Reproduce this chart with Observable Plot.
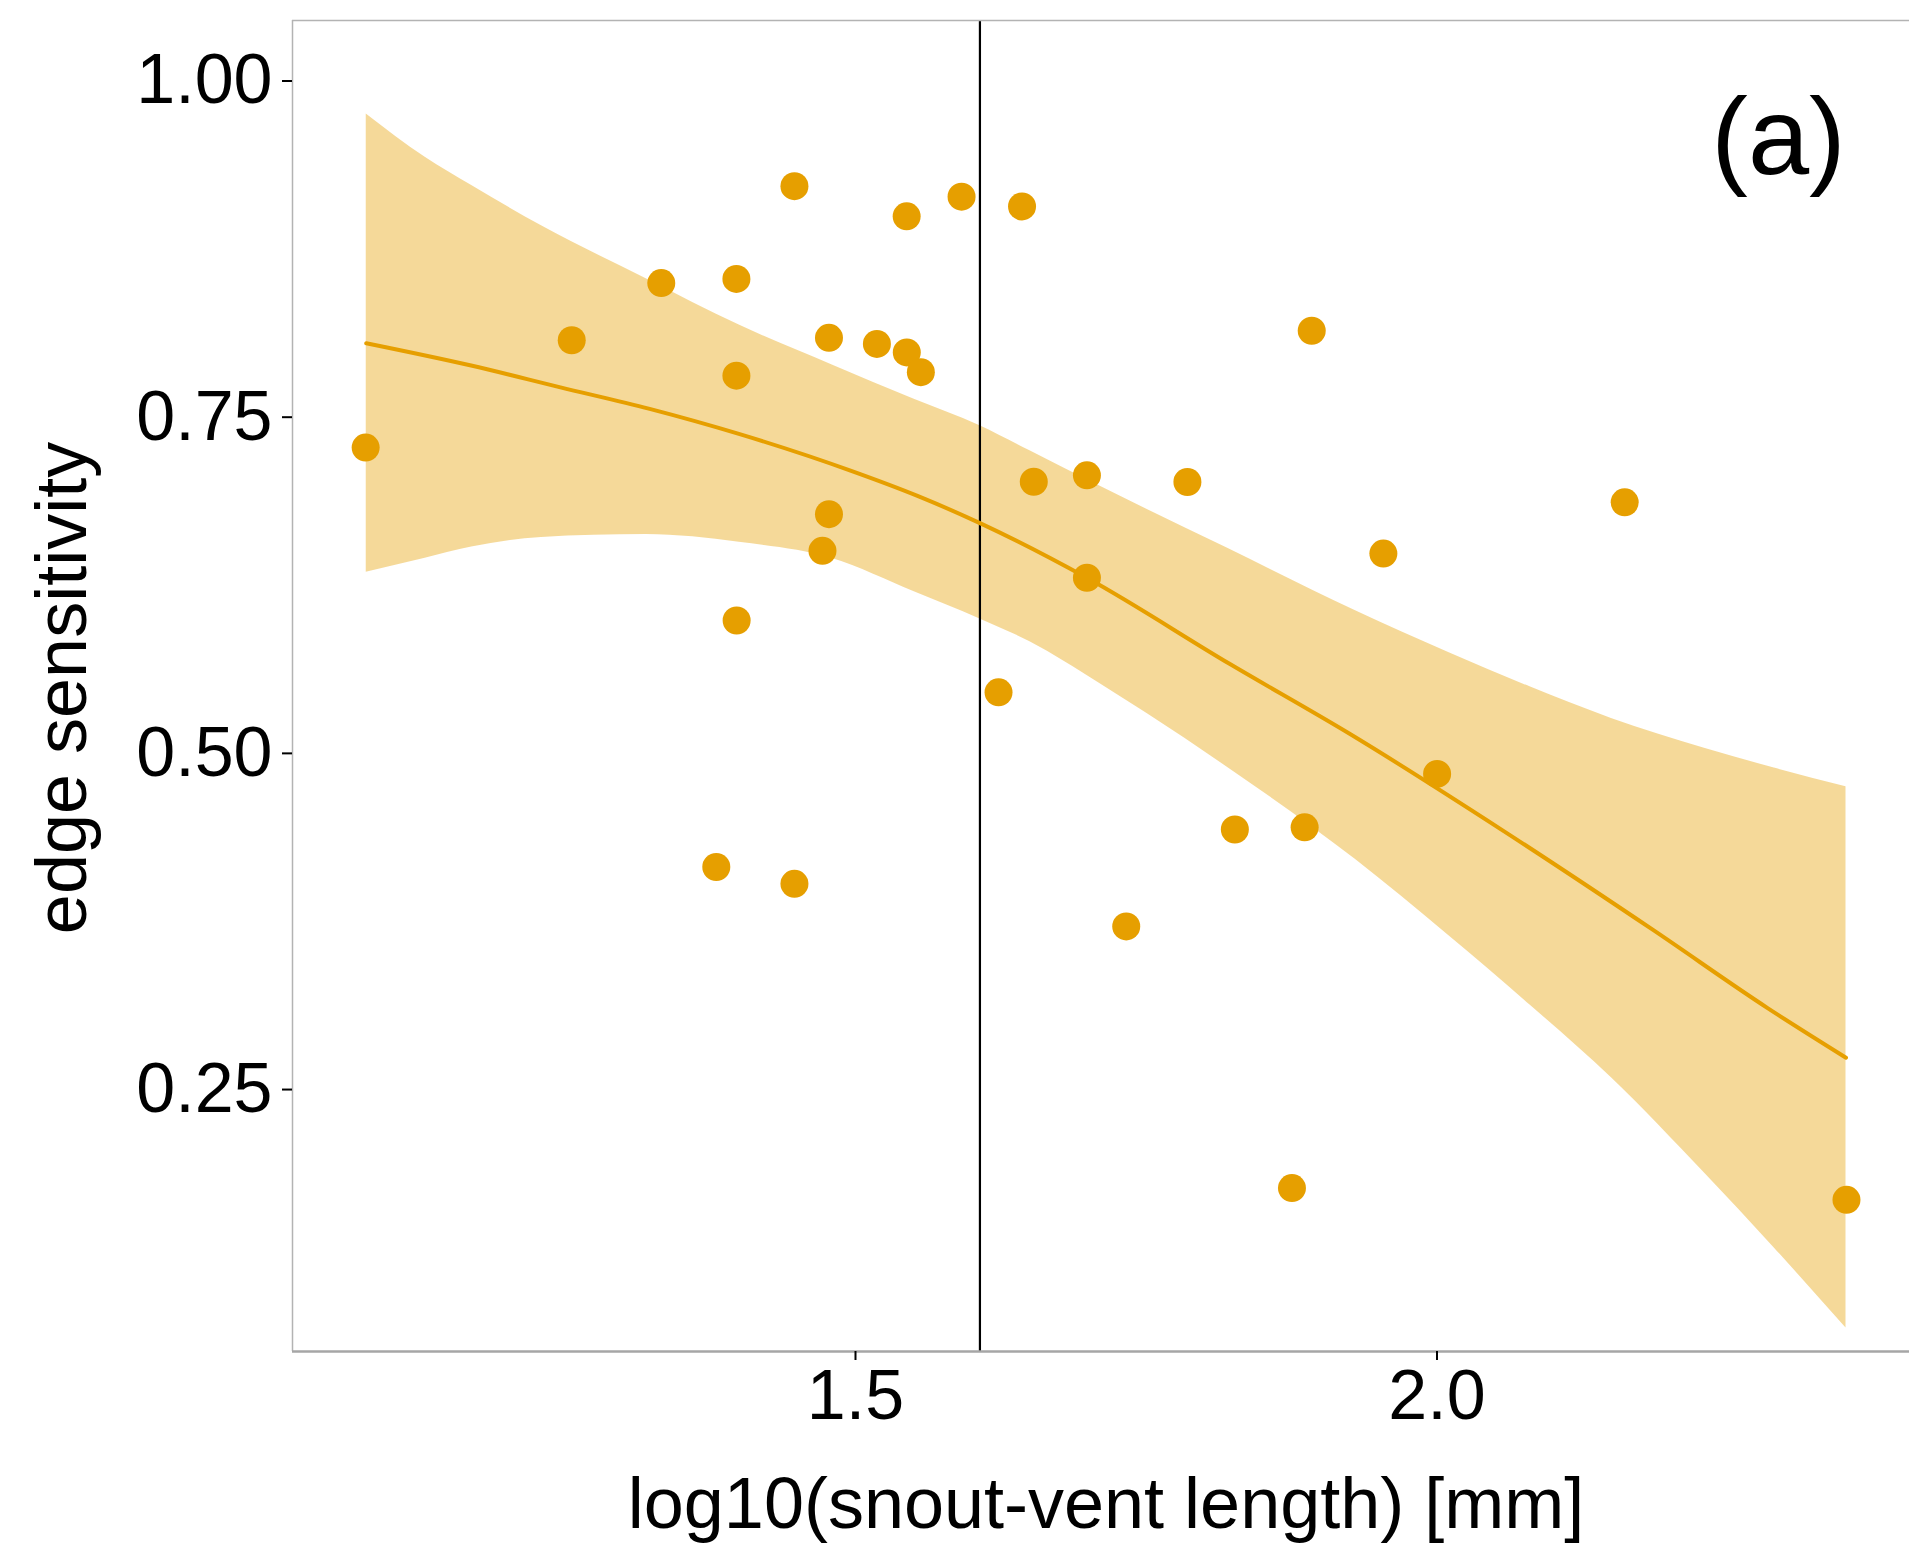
<!DOCTYPE html>
<html>
<head>
<meta charset="utf-8">
<script src="https://cdn.jsdelivr.net/npm/d3@7"></script>
<script src="https://cdn.jsdelivr.net/npm/@observablehq/plot@0.6"></script>
<style>
  html, body { margin: 0; padding: 0; background: white; overflow: hidden; }
  #chart svg { display: block; }
</style>
</head>
<body>
<div id="chart"></div>
<script>
// ---- data ----
const svlLog = [1.0788, 1.2560, 1.3330, 1.3976, 1.3976, 1.3978, 1.3803, 1.4475, 1.4475, 1.4772, 1.4772, 1.4716,
                1.5184, 1.5440, 1.5441, 1.5562, 1.5912, 1.6432, 1.6230, 1.6533, 1.6990, 1.6990, 1.7328, 1.7854,
                1.8262, 1.8753, 1.8862, 1.8923, 1.9539, 2.0001, 2.1614, 2.3521];
const edgeSens = [0.7274, 0.8072, 0.8497, 0.8528, 0.7809, 0.5988, 0.4155, 0.9218, 0.4030, 0.8090, 0.6779, 0.6506,
                  0.8045, 0.8994, 0.7982, 0.7835, 0.9140, 0.9067, 0.5454, 0.7020, 0.7068, 0.6306, 0.3713, 0.7018,
                  0.4434, 0.1767, 0.4450, 0.8143, 0.6486, 0.4847, 0.6867, 0.1680];

// smoother: fitted line
const fitX = [1.0793, 1.1695, 1.2463, 1.3230, 1.3997, 1.4957, 1.5533, 1.6070, 1.7000, 1.8216, 1.9256, 2.0574, 2.1861, 2.2843, 2.3517];
const fitY = [0.8050, 0.7884, 0.7722, 0.7562, 0.7376, 0.7103, 0.6915, 0.6712, 0.6300, 0.5666, 0.5142, 0.4422, 0.3685, 0.3106, 0.2737];

// confidence band, read at common x positions
const bandX  = [1.0793, 1.13, 1.17, 1.23, 1.32, 1.40, 1.48, 1.55, 1.607, 1.65, 1.71, 1.75, 1.82, 1.93, 2.01, 2.08, 2.15, 2.23, 2.29, 2.3517];
const bandHi = [0.9755, 0.9433, 0.9223, 0.8923, 0.8530, 0.8185, 0.7889, 0.7635, 0.7437, 0.7250, 0.6988, 0.6818, 0.6525, 0.6060, 0.5750, 0.5495, 0.5260, 0.5038, 0.4891, 0.4751];
const bandLo = [0.6347, 0.6451, 0.6534, 0.6606, 0.6627, 0.6570, 0.6450, 0.6204, 0.6000, 0.5830, 0.5520, 0.5300, 0.4895, 0.4210, 0.3645, 0.3129, 0.2588, 0.1879, 0.1322, 0.0727];

const refX = [1.607];           // vertical reference line
const xTicks = [1.5, 2.0];
const yTicks = [0.25, 0.50, 0.75, 1.00];
const xDomain = [1.0159, 2.4063];
const yDomain = [0.0552, 1.045];

const xTitle = "log10(snout-vent length) [mm]";
const yTitle = "edge sensitivity";
const panelTag = "(a)";

// ---- tables ----
const points = svlLog.map((x, i) => ({x, y: edgeSens[i]}));
const fitLine = fitX.map((x, i) => ({x, y: fitY[i]}));
const band = bandX.map((x, i) => ({x, lo: bandLo[i], hi: bandHi[i]}));

const orange = "#E69F00";
const frameGray = "#B3B3B3";

const chart = Plot.plot({
  width: 1909,
  height: 1546,
  marginLeft: 292,
  marginRight: 0,
  marginTop: 20,
  marginBottom: 195,
  x: {domain: xDomain},
  y: {domain: yDomain},
  style: {fontFamily: "'Liberation Sans', Arial, Helvetica, sans-serif", background: "white", color: "black"},
  marks: [
    Plot.areaY(band, {x: "x", y1: "lo", y2: "hi", fill: orange, fillOpacity: 0.4, curve: "monotone-x"}),
    Plot.ruleX(refX, {stroke: "black", strokeWidth: 2.2}),
    Plot.lineY(fitLine, {x: "x", y: "y", stroke: orange, strokeWidth: 4, curve: "monotone-x"}),
    Plot.dot(points, {x: "x", y: "y", r: 14, fill: orange}),
    // panel border (top, left) and bottom axis line
    Plot.ruleY([yDomain[1]], {stroke: frameGray, strokeWidth: 1.5}),
    Plot.ruleX([xDomain[0]], {stroke: frameGray, strokeWidth: 1.5}),
    Plot.ruleY([yDomain[0]], {stroke: "#A6A6A6", strokeWidth: 2.5}),
    Plot.axisY(yTicks, {tickFormat: d3.format(".2f"), fontSize: 70, tickSize: 10, tickPadding: 10, strokeWidth: 2, label: null}),
    Plot.axisX(xTicks, {tickFormat: d3.format(".1f"), fontSize: 70, tickSize: 9, tickPadding: 9, strokeWidth: 2, label: null}),
    Plot.text([xTitle], {frameAnchor: "bottom", dx: 5, dy: 176, lineAnchor: "bottom", textAnchor: "middle", fontSize: 72, fill: "black"}),
    Plot.text([yTitle], {frameAnchor: "left", dx: -207, dy: 2, rotate: -90, lineAnchor: "bottom", textAnchor: "middle", fontSize: 72, fill: "black"}),
    Plot.text([panelTag], {frameAnchor: "top-right", dx: -131, dy: 153, lineAnchor: "bottom", textAnchor: "middle", fontSize: 110, fill: "black"})
  ]
});
document.getElementById("chart").appendChild(chart);
</script>
</body>
</html>
